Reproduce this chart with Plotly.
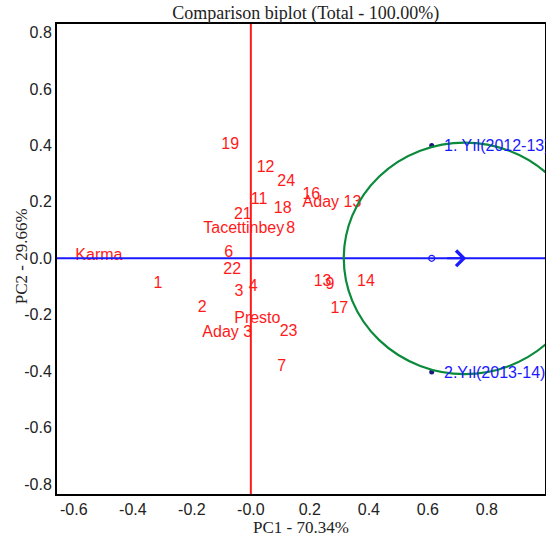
import plotly.graph_objects as go

# Genotype scores (PC1, PC2)
gen_names = ["19", "12", "24", "16", "Aday 13", "11", "18", "21", "Tacettinbey", "8",
             "6", "22", "Karma", "1", "3", "4", "2", "Presto", "Aday 3", "23", "7",
             "13", "9", "14", "17"]
gen_pc1 = [-0.07, 0.05, 0.12, 0.205, 0.275, 0.028, 0.108, -0.027, -0.024, 0.135,
           -0.075, -0.063, -0.515, -0.315, -0.04, 0.008, -0.165, 0.022, -0.08, 0.128, 0.105,
           0.243, 0.268, 0.39, 0.30]
gen_pc2 = [0.40, 0.32, 0.27, 0.225, 0.196, 0.207, 0.175, 0.154, 0.105, 0.105,
           0.02, -0.04, 0.007, -0.09, -0.12, -0.10, -0.175, -0.214, -0.263, -0.26, -0.386,
           -0.083, -0.095, -0.083, -0.18]

# Environment scores
env_names = ["1. Yıl(2012-13)", "2.Yıl(2013-14)"]
env_pc1 = [0.613, 0.613]
env_pc2 = [0.40, -0.403]

# Average environment / ideal point
avg_pc1 = [0.613]
avg_pc2 = [0.0]
ideal_center = (0.725, 0.0)
ideal_radius = 0.41
arrow_tip = 0.73

x_range = [-0.657, 0.997]
y_range = [-0.835, 0.83]
x_ticks = [-0.6, -0.4, -0.2, 0.0, 0.2, 0.4, 0.6, 0.8]
x_ticktext = ["-0.6", "-0.4", "-0.2", "-0.0", "0.2", "0.4", "0.6", "0.8"]
y_ticks = [0.8, 0.6, 0.4, 0.2, 0.0, -0.2, -0.4, -0.6, -0.8]
y_ticktext = ["0.8", "0.6", "0.4", "0.2", "0.0", "-0.2", "-0.4", "-0.6", "-0.8"]

RED = "#ff1a1a"
BLUE = "#1a1aff"
SANS = "Liberation Sans, Arial"
SERIF = "Liberation Serif, Times New Roman"

fig = go.Figure()

# Axes lines through origin
fig.add_shape(type="line", xref="x", yref="paper", x0=0, x1=0, y0=0, y1=1,
              line=dict(color=RED, width=2))
fig.add_shape(type="line", xref="paper", yref="y", x0=0, x1=1, y0=0, y1=0,
              line=dict(color=BLUE, width=2))

# Circle
cx, cy = ideal_center
fig.add_shape(type="circle", xref="x", yref="y",
              x0=cx - ideal_radius, x1=cx + ideal_radius,
              y0=cy - ideal_radius, y1=cy + ideal_radius,
              line=dict(color="#0a8a3a", width=2.2))

# Arrow
fig.add_annotation(x=arrow_tip, y=0, ax=arrow_tip - 0.07, ay=0, xref="x", yref="y",
                   axref="x", ayref="y", showarrow=True, arrowhead=4, arrowsize=1.5,
                   arrowwidth=2, arrowcolor=BLUE, text="")

# Genotypes
fig.add_trace(go.Scatter(x=gen_pc1, y=gen_pc2, mode="text", text=gen_names,
                         textposition="middle center", cliponaxis=True,
                         textfont=dict(family=SANS, size=16, color=RED),
                         hoverinfo="text", showlegend=False))

# Environments
fig.add_trace(go.Scatter(x=env_pc1, y=env_pc2, mode="markers",
                         marker=dict(size=5, color="#1a1a80"),
                         hovertext=env_names, hoverinfo="text", showlegend=False))
for ex, ey, en in zip(env_pc1, env_pc2, env_names):
    fig.add_annotation(x=ex, y=ey, xref="x", yref="y", text=en, showarrow=False,
                       xanchor="left", yanchor="middle", xshift=10,
                       font=dict(family=SANS, size=16, color=BLUE))

fig.add_trace(go.Scatter(x=avg_pc1, y=avg_pc2, mode="markers",
                         marker=dict(size=6, color="rgba(0,0,0,0)",
                                     line=dict(color=BLUE, width=1.2)),
                         showlegend=False))

axis_common = dict(showgrid=False, zeroline=False, showline=True, linecolor="black",
                   linewidth=2, mirror=True, ticks="", automargin=False,
                   tickfont=dict(family=SANS, size=16, color="#222"))

fig.update_xaxes(range=x_range, tickvals=x_ticks, ticktext=x_ticktext,
                 title=dict(text="PC1 - 70.34%", standoff=0,
                            font=dict(family=SERIF, size=17, color="#222")),
                 **axis_common)
fig.update_yaxes(range=y_range, tickvals=y_ticks, ticktext=y_ticktext, **axis_common)

# Y-axis title
fig.add_annotation(x=-0.0727, y=0.505, xref="paper", yref="paper", text="PC2 - 29.66%",
                   showarrow=False, textangle=-90, xanchor="center", yanchor="middle",
                   font=dict(family=SERIF, size=17, color="#222"))

fig.update_layout(
    width=546, height=537,
    margin=dict(l=57, r=1, t=24, b=43),
    paper_bgcolor="white", plot_bgcolor="white",
    title=dict(text="Comparison biplot (Total - 100.00%)", x=0.56, xanchor="center",
               y=0.988, yanchor="top",
               font=dict(family=SERIF, size=18, color="#222")),
)

fig.write_html("out.html", config={"displayModeBar": False},
               post_script="document.body.style.margin='0';document.body.style.overflow='hidden';")
